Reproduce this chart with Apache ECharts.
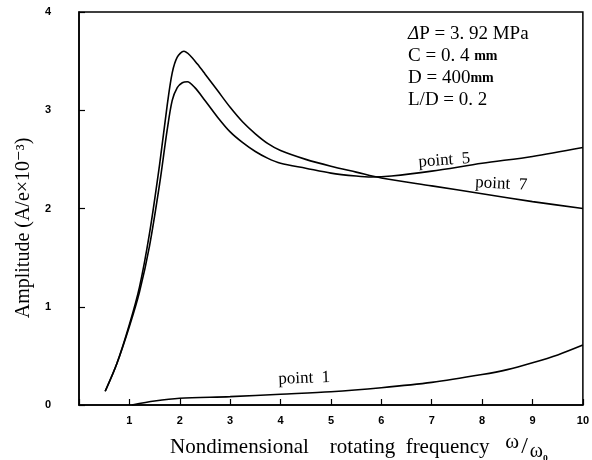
<!DOCTYPE html>
<html>
<head>
<meta charset="utf-8">
<script src="https://cdn.jsdelivr.net/npm/echarts@6/dist/echarts.min.js"></script>
<style>
  html, body { margin: 0; padding: 0; background: #fff; }
  #chart { width: 592px; height: 460px; }
</style>
</head>
<body>
<div id="chart"></div>
<script>
// Amplitude response of the bearing at three measuring points
const xTickLabels = ['1', '2', '3', '4', '5', '6', '7', '8', '9', '10'];
const yTickLabels = ['0', '1', '2', '3', '4'];

// point 7: higher resonance peak, falling towards high speed
const point7X = [0.52, 0.75, 1.0, 1.2, 1.4, 1.6, 1.75, 1.85, 1.95, 2.08, 2.2, 2.35, 2.5, 2.75, 3.0, 3.25, 3.5, 3.75, 4.0, 4.5, 5.0, 5.5, 6.0, 7.0, 8.0, 9.0, 10.0];
const point7Y = [0.14, 0.42, 0.82, 1.2, 1.75, 2.45, 3.05, 3.38, 3.54, 3.6, 3.56, 3.47, 3.37, 3.2, 3.03, 2.88, 2.76, 2.66, 2.59, 2.5, 2.43, 2.37, 2.31, 2.23, 2.15, 2.07, 2.0];

// point 5: lower peak, rising again beyond the crossing
const point5X = [0.52, 0.75, 1.0, 1.2, 1.4, 1.6, 1.75, 1.85, 1.95, 2.05, 2.15, 2.3, 2.5, 2.75, 3.0, 3.25, 3.5, 3.75, 4.0, 4.5, 5.0, 5.5, 5.8, 6.2, 7.0, 8.0, 9.0, 10.0];
const point5Y = [0.14, 0.42, 0.8, 1.15, 1.62, 2.25, 2.8, 3.1, 3.23, 3.28, 3.29, 3.23, 3.1, 2.93, 2.78, 2.67, 2.58, 2.51, 2.46, 2.41, 2.36, 2.33, 2.32, 2.33, 2.38, 2.46, 2.53, 2.62];

// point 1: small amplitude, growing slowly with speed
const point1X = [1.05, 1.5, 2.0, 3.0, 4.0, 5.0, 6.0, 7.0, 8.0, 8.5, 9.0, 9.5, 10.0];
const point1Y = [0.0, 0.04, 0.068, 0.085, 0.11, 0.135, 0.176, 0.23, 0.31, 0.36, 0.43, 0.51, 0.61];

// curve labels: text, anchor in data units, tilt in degrees
const curveLabels = [
  { text: 'point  5', x: 7.25, y: 2.49, tilt: 4 },
  { text: 'point  7', x: 8.38, y: 2.25, tilt: -3 },
  { text: 'point  1', x: 4.47, y: 0.27, tilt: 2 }
];

const pairs = (xs, ys) => xs.map((x, i) => [x, ys[i]]);
const serif = '"Liberation Serif", "DejaVu Serif", serif';

const chart = echarts.init(document.getElementById('chart'));

const curve = (name, xs, ys) => ({
  name: name,
  type: 'line',
  data: pairs(xs, ys),
  smooth: 0.3,
  showSymbol: false,
  lineStyle: { color: '#000', width: 1.6 },
  silent: true
});

chart.setOption({
  animation: false,
  backgroundColor: '#fff',
  grid: {
    left: 79, right: 9, top: 12, bottom: 55,
    show: true, borderColor: '#000', borderWidth: 1.5, backgroundColor: 'transparent'
  },
  xAxis: {
    type: 'value', min: 0, max: 10, interval: 1,
    axisLine: { show: true, lineStyle: { color: '#000', width: 1.5 } },
    axisTick: { show: true, inside: true, length: 6, lineStyle: { color: '#000', width: 1.2 } },
    splitLine: { show: false },
    axisLabel: {
      margin: 10, color: '#000', fontFamily: '"Liberation Sans", Arial, sans-serif',
      fontWeight: 'bold', fontSize: 11,
      formatter: v => (v >= 1 ? xTickLabels[v - 1] : '')
    }
  },
  yAxis: {
    type: 'value', min: 0, max: 4, interval: 1,
    axisLine: { show: true, lineStyle: { color: '#000', width: 1.5 } },
    axisTick: { show: true, inside: true, length: 6, lineStyle: { color: '#000', width: 1.2 } },
    splitLine: { show: false },
    axisLabel: {
      margin: 28, color: '#000', fontFamily: '"Liberation Sans", Arial, sans-serif',
      fontWeight: 'bold', fontSize: 11,
      formatter: v => yTickLabels[v]
    }
  },
  series: [
    curve('point 7', point7X, point7Y),
    curve('point 5', point5X, point5Y),
    curve('point 1', point1X, point1Y)
  ]
});

// text placed after layout so curve labels follow the axis scales
const graphics = [];

curveLabels.forEach(l => {
  const p = chart.convertToPixel({ gridIndex: 0 }, [l.x, l.y]);
  graphics.push({
    type: 'text', x: p[0], y: p[1], rotation: l.tilt * Math.PI / 180,
    style: { text: l.text, font: '17px ' + serif, fill: '#000', align: 'center', verticalAlign: 'middle' }
  });
});

// operating conditions
const conds = [
  { rich: '{i|Δ}{t|P = 3. 92 MPa}', y: 34 },
  { rich: '{t|C = 0. 4 }{m|mm}', y: 56 },
  { rich: '{t|D = 400}{m|mm}', y: 78 },
  { rich: '{t|L/D = 0. 2}', y: 100 }
];
conds.forEach(c => {
  graphics.push({
    type: 'text', x: 408, y: c.y,
    style: {
      text: c.rich, fill: '#000', align: 'left', verticalAlign: 'middle',
      rich: {
        t: { fontFamily: serif, fontSize: 19, fill: '#000' },
        i: { fontFamily: serif, fontSize: 19, fontStyle: 'italic', fill: '#000' },
        m: { fontFamily: serif, fontSize: 14, fontWeight: 'bold', fill: '#000' }
      }
    }
  });
});

// axis titles
graphics.push({
  type: 'text', x: 170, y: 447,
  style: {
    text: '{a|Nondimensional    rotating  frequency   }{b|ω}{s|/}{c|ω}{d|₀}',
    fill: '#000', align: 'left', verticalAlign: 'middle',
    rich: {
      a: { fontFamily: serif, fontSize: 21, fill: '#000' },
      b: { fontFamily: serif, fontSize: 21, fill: '#000', padding: [0, 2, 10, 0] },
      s: { fontFamily: serif, fontSize: 24, fill: '#000' },
      c: { fontFamily: serif, fontSize: 20, fill: '#000', padding: [10, 0, 0, 2] },
      d: { fontFamily: serif, fontSize: 16, fontWeight: 'bold', fill: '#000', padding: [13, 0, 0, 0] }
    }
  }
});
graphics.push({
  type: 'text', x: 24, y: 228, rotation: Math.PI / 2,
  style: {
    text: 'Amplitude (A/e×10⁻³)',
    font: '20px ' + serif, fill: '#000', align: 'center', verticalAlign: 'middle'
  }
});

chart.setOption({ graphic: graphics });
</script>
</body>
</html>
